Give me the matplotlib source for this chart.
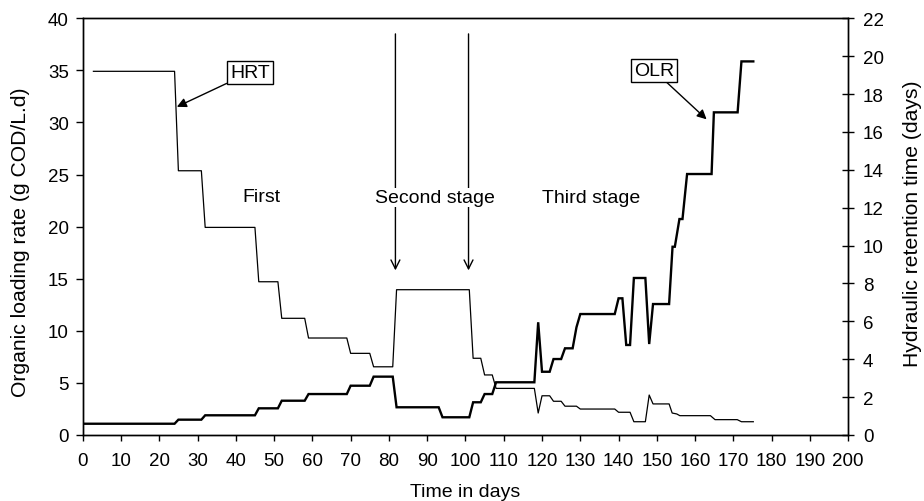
import matplotlib
matplotlib.use("Agg")
import matplotlib.pyplot as plt

plt.rcParams['font.family'] = ['Liberation Sans', 'DejaVu Sans']

# OLR (g COD/L.d) - left axis
olr_days = [0, 24, 25, 31, 32, 45, 46, 51, 52, 58, 59, 69, 70, 75, 76, 81, 82, 93, 94,
            101, 102, 104, 105, 107, 108, 118, 119, 120, 122, 123, 125, 126, 128, 129,
            130, 139, 140, 141, 142, 143, 144, 147, 148, 149, 153.2, 154.1, 154.7, 155.9,
            156.7, 157.9, 164.3, 164.9, 171.1, 172.1, 175.2]
olr_vals = [1.08, 1.08, 1.47, 1.47, 1.89, 1.89, 2.56, 2.56, 3.29, 3.29, 3.93, 3.93, 4.73,
            4.73, 5.6, 5.6, 2.66, 2.66, 1.70, 1.70, 3.14, 3.14, 3.93, 3.93, 5.06, 5.06,
            10.82, 6.07, 6.07, 7.29, 7.29, 8.32, 8.32, 10.34, 11.61, 11.61, 13.12, 13.12,
            8.64, 8.64, 15.07, 15.07, 8.73, 12.57, 12.57, 18.07, 18.07, 20.73, 20.73,
            25.05, 25.05, 30.97, 30.97, 35.86, 35.86]

# HRT (days) - right axis
hrt_days = [2.8, 24, 25, 31, 32, 45, 46, 51, 52, 58, 59, 69, 70, 75, 76, 81, 82, 101, 102,
            104, 105, 107, 108, 118, 119, 120, 122, 123, 125, 126, 129, 130, 139, 140, 143,
            144, 147, 148, 149, 153.2, 154, 155.2, 156, 164, 165.2, 171, 172.1, 175.2]
hrt_vals = [19.2, 19.2, 13.95, 13.95, 10.96, 10.96, 8.09, 8.09, 6.16, 6.16, 5.12, 5.12,
            4.31, 4.31, 3.6, 3.6, 7.67, 7.67, 4.05, 4.05, 3.17, 3.17, 2.46, 2.46, 1.16,
            2.07, 2.07, 1.78, 1.78, 1.52, 1.52, 1.37, 1.37, 1.2, 1.2, 0.70, 0.70, 2.11,
            1.64, 1.64, 1.16, 1.11, 1.02, 1.02, 0.81, 0.81, 0.70, 0.70]

x_ticks = list(range(0, 201, 10))
left_ticks = list(range(0, 41, 5))
right_ticks = list(range(0, 23, 2))

fig = plt.figure(figsize=(9.24, 5.02), dpi=100)
ax = fig.add_axes([0.0895, 0.1315, 0.8285, 0.8301])
ax2 = ax.twinx()

ax.plot(olr_days, olr_vals, color='black', lw=1.7, solid_joinstyle='miter')
ax2.plot(hrt_days, hrt_vals, color='black', lw=0.9)

ax.set_xlim(0, 200)
ax.set_ylim(0, 40)
ax2.set_ylim(0, 22)
ax.set_xticks(x_ticks)
ax.set_yticks(left_ticks)
ax2.set_yticks(right_ticks)

fs = 14
tfs = 13.5
ax.tick_params(axis='x', direction='out', length=4, width=1, labelsize=tfs, pad=8)
ax.tick_params(axis='y', direction='out', length=5, width=1, labelsize=tfs, pad=5)
ax2.tick_params(axis='y', direction='inout', length=9, width=1, labelsize=tfs, pad=6)
for a in (ax, ax2):
    for s in a.spines.values():
        s.set_linewidth(1.0)

ax.set_xlabel('Time in days', fontsize=fs, labelpad=10)
ax.set_ylabel('Organic loading rate (g COD/L.d)', fontsize=15.2)
ax.yaxis.set_label_coords(-0.069, 0.465)
ax2.set_ylabel('Hydraulic retention time (days)', fontsize=15.2, rotation=90)
ax2.yaxis.set_label_coords(1.071, 0.51)

# Annotations
ax.annotate('HRT', xy=(24.6, 31.5), xytext=(43.7, 34.8), fontsize=fs,
            ha='center', va='center',
            bbox=dict(boxstyle='square,pad=0.15', fc='white', ec='black', lw=1),
            arrowprops=dict(arrowstyle='-|>', color='black', lw=1, mutation_scale=14,
                            shrinkA=0, shrinkB=0))
ax.annotate('OLR', xy=(163.0, 30.3), xytext=(149.2, 35.0), fontsize=fs,
            ha='center', va='center',
            bbox=dict(boxstyle='square,pad=0.15', fc='white', ec='black', lw=1),
            arrowprops=dict(arrowstyle='-|>', color='black', lw=1, mutation_scale=14,
                            shrinkA=0, shrinkB=0))

for xd in (81.7, 100.8):
    ax.annotate('', xy=(xd, 15.8), xytext=(xd, 38.5),
                arrowprops=dict(arrowstyle='->', color='black', lw=1,
                                mutation_scale=16, shrinkA=0, shrinkB=0))

ax.text(46.8, 22.9, 'First', fontsize=fs, ha='center', va='center')
ax.text(91.9, 22.8, 'Second stage', fontsize=fs, ha='center', va='center',
        bbox=dict(fc='white', ec='none', pad=1))
ax.text(132.8, 22.8, 'Third stage', fontsize=fs, ha='center', va='center')

fig.savefig('out.png', dpi=100)
